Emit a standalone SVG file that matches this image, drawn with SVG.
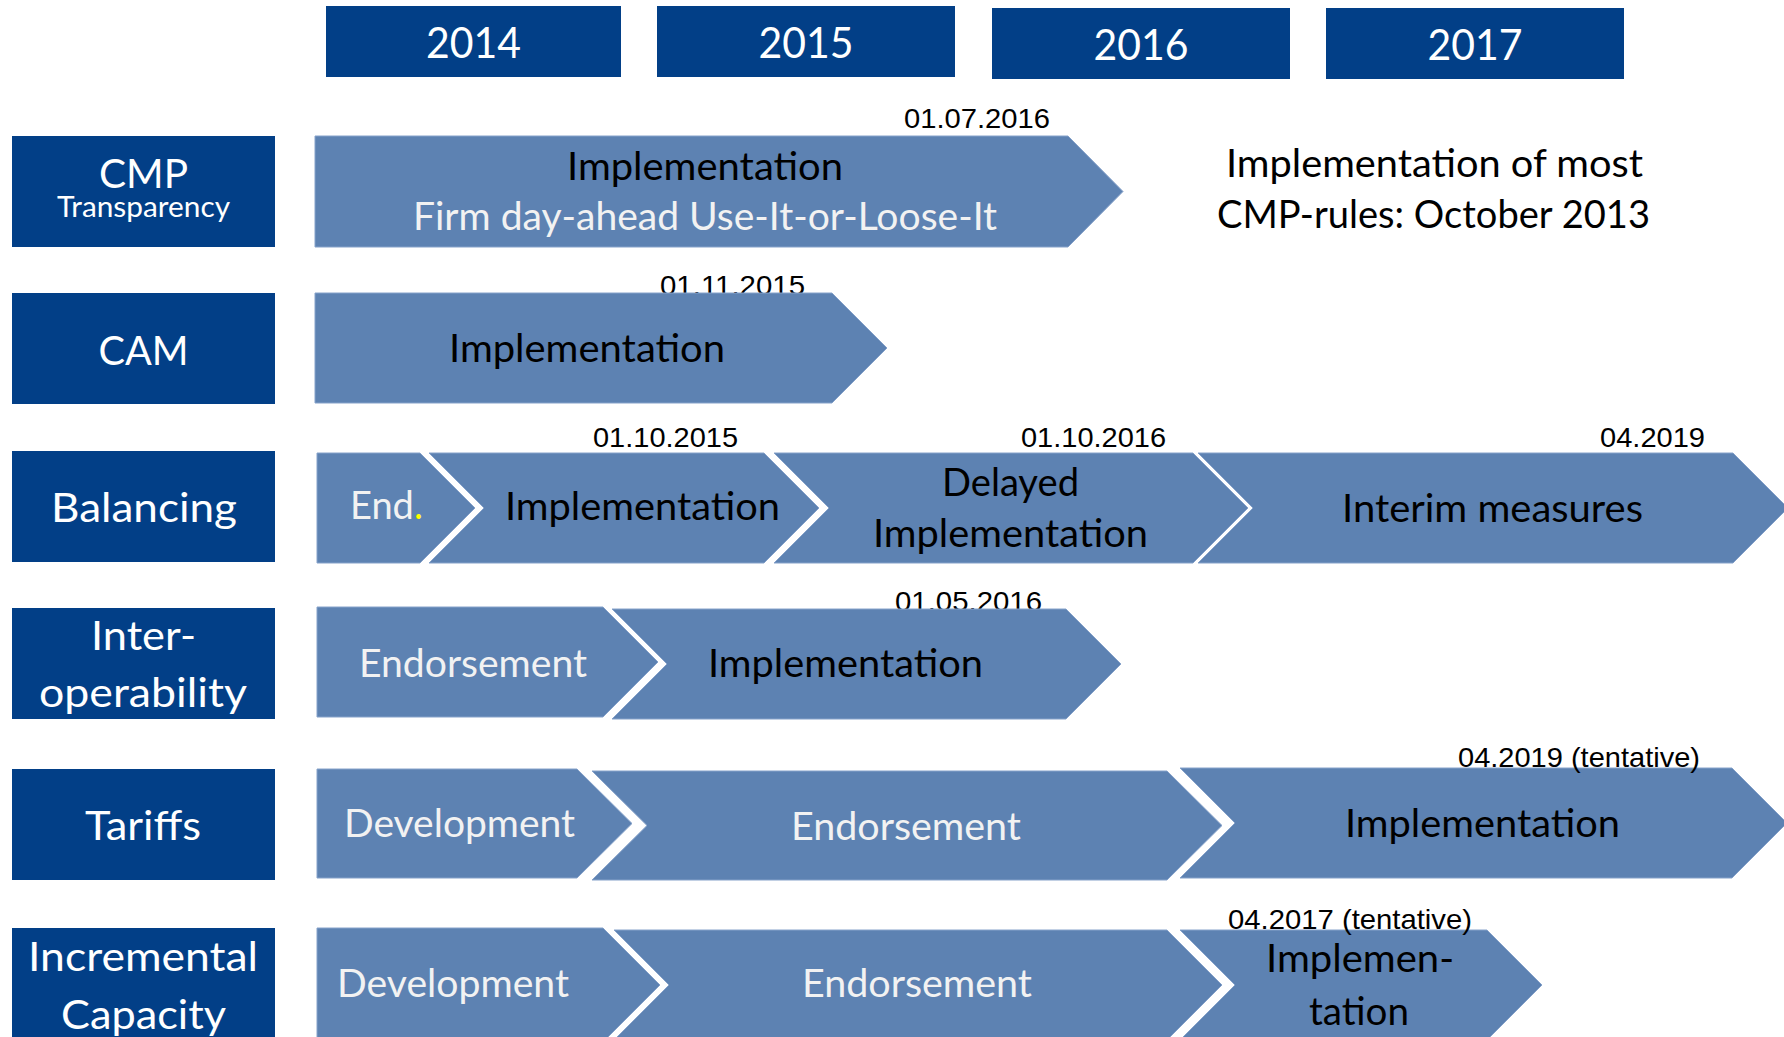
<svg xmlns="http://www.w3.org/2000/svg" width="1784" height="1037" viewBox="0 0 1784 1037">
<style>
.box{fill:#023F87}
.arr{fill:#5D82B2;stroke:#86A2CA;stroke-width:1}
.yt{font-family:Lato,"Open Sans",sans-serif;font-size:42px;fill:#FFFFFF;text-anchor:middle}
.lt{font-family:Lato,"Open Sans",sans-serif;font-size:41px;fill:#FFFFFF;text-anchor:middle}
.at{font-family:Lato,"Open Sans",sans-serif;font-size:38px;text-anchor:middle}
.dk{fill:#000000}
.wt{fill:#F2F2F2}
.dt{font-family:"Liberation Sans",Arial,sans-serif;font-size:28px;fill:#000000;text-anchor:end}
</style>
<rect width="1784" height="1037" fill="#FFFFFF"/>

<g id="years">
  <g id="y2014"><rect class="box" x="326" y="6" width="295" height="71"/><text class="yt" x="473.5" y="58" textLength="95" lengthAdjust="spacingAndGlyphs">2014</text></g>
  <g id="y2015"><rect class="box" x="657" y="6" width="298" height="71"/><text class="yt" x="806" y="58" textLength="95" lengthAdjust="spacingAndGlyphs">2015</text></g>
  <g id="y2016"><rect class="box" x="992" y="8" width="298" height="71"/><text class="yt" x="1141" y="60" textLength="95" lengthAdjust="spacingAndGlyphs">2016</text></g>
  <g id="y2017"><rect class="box" x="1326" y="8" width="298" height="71"/><text class="yt" x="1475" y="60" textLength="95" lengthAdjust="spacingAndGlyphs">2017</text></g>
</g>

<g id="labels">
  <g id="lbl-cmp"><rect class="box" x="12" y="136" width="263" height="111"/>
    <text class="lt" x="143.5" y="188" textLength="89" lengthAdjust="spacingAndGlyphs">CMP</text>
    <text class="lt" x="143.5" y="217" style="font-size:28px" textLength="173" lengthAdjust="spacingAndGlyphs">Transparency</text></g>
  <g id="lbl-cam"><rect class="box" x="12" y="293" width="263" height="111"/>
    <text class="lt" x="143.5" y="365" textLength="90" lengthAdjust="spacingAndGlyphs">CAM</text></g>
  <g id="lbl-bal"><rect class="box" x="12" y="451" width="263" height="111"/>
    <text class="lt" x="144" y="522" textLength="186" lengthAdjust="spacingAndGlyphs">Balancing</text></g>
  <g id="lbl-int"><rect class="box" x="12" y="608" width="263" height="111"/>
    <text class="lt" x="143.5" y="650" textLength="105" lengthAdjust="spacingAndGlyphs">Inter-</text>
    <text class="lt" x="143" y="707" textLength="208" lengthAdjust="spacingAndGlyphs">operability</text></g>
  <g id="lbl-tar"><rect class="box" x="12" y="769" width="263" height="111"/>
    <text class="lt" x="143" y="840" textLength="116" lengthAdjust="spacingAndGlyphs">Tariffs</text></g>
  <g id="lbl-inc"><rect class="box" x="12" y="928" width="263" height="112"/>
    <text class="lt" x="143" y="971" textLength="230" lengthAdjust="spacingAndGlyphs">Incremental</text>
    <text class="lt" x="143.5" y="1029" textLength="165" lengthAdjust="spacingAndGlyphs">Capacity</text></g>
</g>

<g id="dates-behind">
  <text class="dt" x="805" y="295" textLength="145" lengthAdjust="spacingAndGlyphs">01.11.2015</text>
  <text class="dt" x="1042" y="611" textLength="147" lengthAdjust="spacingAndGlyphs">01.05.2016</text>
</g>

<g id="row-cmp">
  <polygon class="arr" points="315,136 1068,136 1123,191.5 1068,247 315,247"/>
  <text class="at dk" x="705" y="180" textLength="276" lengthAdjust="spacingAndGlyphs">Implementation</text>
  <text class="at wt" x="705" y="230" textLength="584" lengthAdjust="spacingAndGlyphs">Firm day-ahead Use-It-or-Loose-It</text>
</g>

<g id="row-cam">
  <polygon class="arr" points="315,293 832,293 887,348 832,403 315,403"/>
  <text class="at dk" x="587" y="362" textLength="276" lengthAdjust="spacingAndGlyphs">Implementation</text>
</g>

<g id="row-bal">
  <g id="bal-end"><polygon class="arr" points="317,453 420,453 475,508 420,563 317,563"/>
    <text class="at wt" x="350" y="519" style="text-anchor:start">End<tspan fill="#FFFF00">.</tspan></text></g>
  <g id="bal-impl"><polygon class="arr" points="429,453 764,453 819,508 764,563 429,563 484,508"/>
    <text class="at dk" x="642.5" y="520" textLength="275" lengthAdjust="spacingAndGlyphs">Implementation</text></g>
  <g id="bal-delayed"><polygon class="arr" points="774,453 1193,453 1248,508 1193,563 774,563 829,508"/>
    <text class="at dk" x="1010.5" y="496" textLength="137" lengthAdjust="spacingAndGlyphs">Delayed</text>
    <text class="at dk" x="1010.5" y="547" textLength="275" lengthAdjust="spacingAndGlyphs">Implementation</text></g>
  <g id="bal-interim"><polygon class="arr" points="1198,453 1733,453 1788,508 1733,563 1198,563 1253,508"/>
    <text class="at dk" x="1492.5" y="522" textLength="301" lengthAdjust="spacingAndGlyphs">Interim measures</text></g>
</g>

<g id="row-int">
  <g id="int-end"><polygon class="arr" points="317,607 603,607 658,662 603,717 317,717"/>
    <text class="at wt" x="473" y="677" textLength="228" lengthAdjust="spacingAndGlyphs">Endorsement</text></g>
  <g id="int-impl"><polygon class="arr" points="612,609 1066,609 1121,664 1066,719 612,719 667,664"/>
    <text class="at dk" x="845.5" y="677" textLength="275" lengthAdjust="spacingAndGlyphs">Implementation</text></g>
</g>

<g id="row-tar">
  <g id="tar-dev"><polygon class="arr" points="317,769 577,769 632,823.5 577,878 317,878"/>
    <text class="at wt" x="459.5" y="837" textLength="231" lengthAdjust="spacingAndGlyphs">Development</text></g>
  <g id="tar-end"><polygon class="arr" points="592,771 1167,771 1222,825.5 1167,880 592,880 647,825.5"/>
    <text class="at wt" x="906" y="840" textLength="230" lengthAdjust="spacingAndGlyphs">Endorsement</text></g>
  <g id="tar-impl"><polygon class="arr" points="1180,768 1732,768 1787,823 1732,878 1180,878 1235,823"/>
    <text class="at dk" x="1482.5" y="837" textLength="275" lengthAdjust="spacingAndGlyphs">Implementation</text></g>
</g>

<g id="row-inc">
  <g id="inc-dev"><polygon class="arr" points="317,928 603,928 660,985 603,1042 317,1042"/>
    <text class="at wt" x="453" y="997" textLength="232" lengthAdjust="spacingAndGlyphs">Development</text></g>
  <g id="inc-end"><polygon class="arr" points="614,930 1167,930 1222,985 1167,1040 614,1040 669,985"/>
    <text class="at wt" x="917" y="997" textLength="230" lengthAdjust="spacingAndGlyphs">Endorsement</text></g>
  <g id="inc-impl"><polygon class="arr" points="1180,930 1487,930 1542,985 1487,1040 1180,1040 1235,985"/>
    <text class="at dk" x="1360" y="972" textLength="188" lengthAdjust="spacingAndGlyphs">Implemen-</text>
    <text class="at dk" x="1359" y="1025" textLength="100" lengthAdjust="spacingAndGlyphs">tation</text></g>
</g>

<g id="dates">
  <text class="dt" x="1050" y="128" textLength="146" lengthAdjust="spacingAndGlyphs">01.07.2016</text>
  <text class="dt" x="738" y="447" textLength="145" lengthAdjust="spacingAndGlyphs">01.10.2015</text>
  <text class="dt" x="1166" y="447" textLength="145" lengthAdjust="spacingAndGlyphs">01.10.2016</text>
  <text class="dt" x="1705" y="447" textLength="105" lengthAdjust="spacingAndGlyphs">04.2019</text>
  <text class="dt" x="1700" y="767" textLength="242" lengthAdjust="spacingAndGlyphs">04.2019 (tentative)</text>
  <text class="dt" x="1472" y="929" textLength="244" lengthAdjust="spacingAndGlyphs">04.2017 (tentative)</text>
</g>

<g id="note">
  <text class="at dk" x="1434.5" y="177" textLength="417" lengthAdjust="spacingAndGlyphs">Implementation of most</text>
  <text class="at dk" x="1433.5" y="228" textLength="433" lengthAdjust="spacingAndGlyphs">CMP-rules: October 2013</text>
</g>
</svg>
